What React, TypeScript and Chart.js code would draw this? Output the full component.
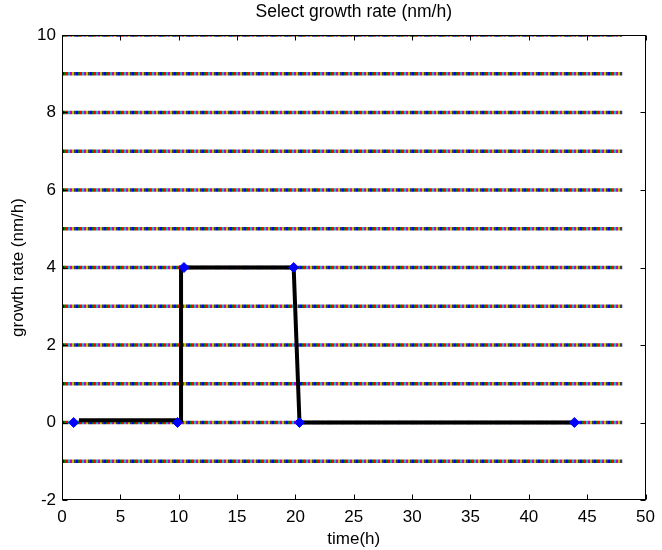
import React, { useEffect, useRef } from "react";
import { Chart, registerables } from "chart.js";

Chart.register(...registerables);

// Selectable rate levels (dotted multicolour rows)
const levels = [-1, 0, 1, 2, 3, 4, 5, 6, 7, 8, 9, 10];
const levelStartX = 0;
const levelEndX = 48;
const dotColors = ["#0000ff", "#008000", "#ff0000", "#00bfbf", "#bf00bf", "#bfbf00", "#404040"];

// Selected profile (black path)
const pathX = [1.45, 9.6, 10.2, 10.2, 19.85, 20.35, 43.9];
const pathY = [0.06, 0.06, 0.06, 4, 4, 0, 0];

// Selected points (blue diamonds)
const markX = [1, 9.9, 10.45, 19.85, 20.35, 43.9];
const markY = [0, 0, 4, 4, 0, 0];

// Axis ticks
const xTicks = [0, 5, 10, 15, 20, 25, 30, 35, 40, 45, 50];
const yTicks = [-2, 0, 2, 4, 6, 8, 10];

const FONT = "'Liberation Sans', Arial, sans-serif";
const TXT = 17;

const boxPlugin = {
  id: "matlabBox",
  afterDatasetsDraw(chart: any) {
    const { ctx, chartArea: a, scales } = chart;
    ctx.save();
    ctx.strokeStyle = "#000";
    ctx.lineWidth = 1;
    const L = Math.round(a.left) + 0.5;
    const R = Math.round(a.right) - 0.5;
    const T = Math.round(a.top) + 0.5;
    const B = Math.round(a.bottom) - 0.5;
    ctx.strokeRect(L, T, R - L, B - T);
    const tl = 5;
    ctx.beginPath();
    xTicks.forEach((v) => {
      const px = Math.round(scales.x.getPixelForValue(v)) + 0.5;
      ctx.moveTo(px, B);
      ctx.lineTo(px, B - tl);
      ctx.moveTo(px, T);
      ctx.lineTo(px, T + tl);
    });
    yTicks.forEach((v) => {
      const py = Math.round(scales.y.getPixelForValue(v)) + 0.5;
      ctx.moveTo(L, py);
      ctx.lineTo(L + tl, py);
      ctx.moveTo(R, py);
      ctx.lineTo(R - tl, py);
    });
    ctx.stroke();
    ctx.restore();
  },
};

export default function App() {
  const ref = useRef<HTMLCanvasElement | null>(null);

  useEffect(() => {
    document.body.style.margin = "0";
    const datasets: any[] = [];
    datasets.push({
      label: "selected points",
      data: markX.map((x, i) => ({ x, y: markY[i] })),
      showLine: false,
      pointStyle: "rectRot",
      pointRadius: 5,
      pointBackgroundColor: "#0000ff",
      pointBorderColor: "#0000ff",
      pointBorderWidth: 1,
    });
    datasets.push({
      label: "profile",
      data: pathX.map((x, i) => ({ x, y: pathY[i] })),
      showLine: true,
      borderColor: "#000",
      borderWidth: 4,
      borderJoinStyle: "miter",
      pointRadius: 0,
      tension: 0,
    });
    levels.forEach((lv) => {
      dotColors.forEach((c, ci) => {
        datasets.push({
          label: `level ${lv} ${ci}`,
          data: [
            { x: levelStartX, y: lv },
            { x: levelEndX, y: lv },
          ],
          showLine: true,
          borderColor: c,
          borderWidth: 3.5,
          borderCapStyle: "butt",
          borderDash: [2, 2 * (dotColors.length - 1)],
          borderDashOffset: -2 * ci,
          pointRadius: 0,
        });
      });
    });

    const chart = new Chart(ref.current!, {
      type: "scatter",
      data: { datasets },
      options: {
        responsive: false,
        animation: false,
        layout: { padding: { left: 0, right: 11, top: 0, bottom: 0 } },
        plugins: {
          legend: { display: false },
          tooltip: { enabled: false },
          title: { display: false },
        },
        scales: {
          x: {
            type: "linear",
            min: 0,
            max: 50,
            afterBuildTicks: (s: any) => {
              s.ticks = xTicks.map((v) => ({ value: v }));
            },
            afterFit: (s: any) => {
              s.height = 50;
            },
            grid: { display: false, drawTicks: false },
            border: { display: false },
            ticks: {
              color: "#000",
              font: { family: FONT, size: TXT },
              padding: 7,
              maxRotation: 0,
            },
            title: {
              display: true,
              text: "time(h)",
              color: "#000",
              font: { family: FONT, size: TXT },
              padding: { top: 0, bottom: 0 },
            },
          },
          top: {
            type: "linear",
            position: "top",
            min: 0,
            max: 50,
            afterFit: (s: any) => {
              s.height = 35;
            },
            grid: { display: false, drawTicks: false },
            border: { display: false },
            ticks: { display: false },
            title: {
              display: true,
              text: "Select growth rate (nm/h)",
              color: "#000",
              font: { family: FONT, size: 17.5 },
              padding: { top: 1.5, bottom: 0 },
            },
          },
          y: {
            type: "linear",
            min: -2,
            max: 10,
            afterBuildTicks: (s: any) => {
              s.ticks = yTicks.map((v) => ({ value: v }));
            },
            afterFit: (s: any) => {
              s.width = 62;
            },
            grid: { display: false, drawTicks: false },
            border: { display: false },
            ticks: {
              color: "#000",
              font: { family: FONT, size: TXT },
              padding: 6,
            },
            title: {
              display: true,
              text: "growth rate (nm/h)",
              color: "#000",
              font: { family: FONT, size: TXT },
              padding: { top: 8, bottom: 0 },
            },
          },
        },
      },
      plugins: [boxPlugin],
    });
    return () => chart.destroy();
  }, []);

  return (
    <div style={{ width: 662, height: 550, background: "#fff" }}>
      <canvas ref={ref} width={662} height={550} style={{ display: "block" }} />
    </div>
  );
}
